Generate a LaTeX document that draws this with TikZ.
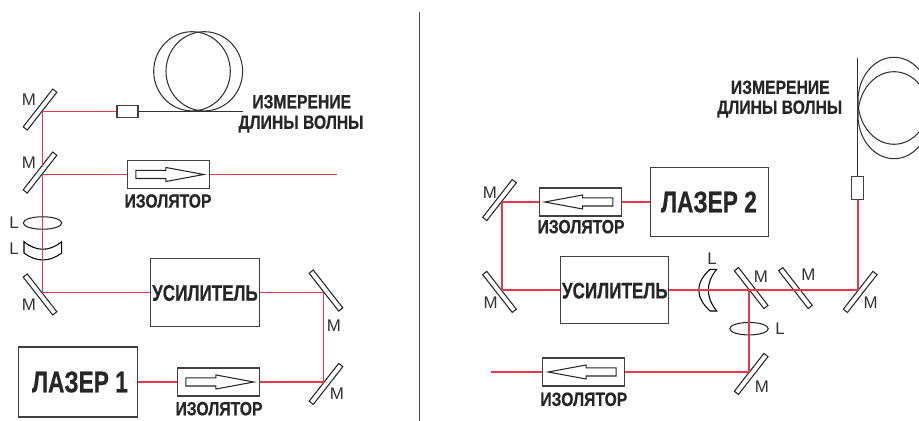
\documentclass[tikz,border=0pt]{standalone}
\usepackage{fontspec}
\setmainfont{Liberation Sans}
\newfontfamily\capfont{Liberation Sans}[FakeStretch=0.82, FakeBold=0.5]
\newfontfamily\bigfont{Liberation Sans}[FakeStretch=0.76, FakeBold=0.5]
\usetikzlibrary{shapes.geometric, shapes.arrows}

\begin{document}
\begin{tikzpicture}[
    x = 0.02cm, y = -0.02cm,
    line width = 0.6pt,
    beam/.style = {draw = beamred, line width = 0.9pt},
    fiber/.style = {draw = black!80, line width = 0.6pt},
    mirror/.style = {
        rectangle, draw = black!85, inner sep = 0pt,
        minimum width = 0.96cm, minimum height = 0.105cm
    },
    block/.style = {rectangle, draw = black!75, inner sep = 0pt},
    isolator/.style = {
        block, minimum width = 1.65cm, minimum height = 0.56cm
    },
    isoarrow/.style = {
        single arrow, draw = black!85, inner xsep = 0pt, inner ysep = 0.07cm,
        minimum height = 1.36cm, minimum width = 0.26cm,
        single arrow head extend = 0.06cm,
        single arrow tip angle = 21,
        single arrow head indent = 0pt,
        anchor = tail
    },
    lens/.style = {
        ellipse, draw = black!85, inner sep = 0pt,
        minimum width = 0.77cm, minimum height = 0.25cm
    },
    coupler/.style = {block, fill = white},
    tag/.style = {font = \fontsize{9.6}{11}\selectfont, text = black!80, inner sep = 0pt},
    caption/.style = {
        font = \capfont\bfseries\fontsize{10.9}{12}\selectfont,
        text = black!85, inner sep = 0pt
    },
    blocktext/.style = {
        font = \bigfont\bfseries\fontsize{12.8}{14}\selectfont,
        text = black!85, inner sep = 0pt
    },
    lasertext/.style = {
        font = \bigfont\bfseries\fontsize{17}{19}\selectfont,
        text = black!85, inner sep = 0pt
    }
]
\definecolor{beamred}{HTML}{E8394A}

\useasboundingbox (0,0) rectangle (919,421);

% --- Divider ---
\draw[black!70] (419.5,12) -- (419.5,421);

% --- Left setup: optics ---
\node[mirror, rotate = 52, anchor = south]  (mA) at (42.5,111.5) {};
\node[mirror, rotate = 52, anchor = south]  (mB) at (42.5,174.5) {};
\node[mirror, rotate = -52, anchor = north] (mC) at (42.5,292.5) {};
\node[mirror, rotate = -52, anchor = south] (mD) at (323.5,292.5) {};
\node[mirror, rotate = 52, anchor = north]  (mE) at (323.5,382) {};

\node[lens] (lensA) at (42.5,223) {};
\draw (24,241.7) .. controls (36.5,251.8) and (49.2,251.8) .. (61.7,241.7)
      -- (61.7,253) .. controls (49.2,262.3) and (36.5,262.3) .. (24,253) -- cycle;

\node[isolator] (isoA) at (168.5,174.5) {};
\node[isoarrow] (arrA) at (135.3,174.5) {};
\node[isolator] (isoB) at (218.3,382) {};
\node[isoarrow] (arrB) at (185.3,382) {};

\node[block, minimum width = 2.17cm, minimum height = 1.35cm] (ampA) at (205,292.5) {};
\node[block, minimum width = 2.37cm, minimum height = 1.4cm] (laserA) at (78.2,382) {};

\coordinate (exitA) at (337,174.5);
\coordinate (fibA) at (243,111.5);
\coordinate (backB) at (42.5,167);

% --- Left setup: fiber coil ---
\draw[fiber] (192,71.3) ellipse (38.3 and 39.6);
\draw[fiber] (204.3,71.3) ellipse (38.3 and 39.6);

% --- Left setup: beams ---
\draw[beam] (laserA) -- (isoB);
\draw[beam] (isoB) -- (mE.north);
\draw[beam] (mE.north) -- (mD.south);
\draw[beam] (mD.south) -- (ampA);
\draw[beam] (ampA) -- (mC.north);
\draw[beam] (mC.north) -- (mB.south);
\draw[beam] (backB) -- (mA.south);
\draw[beam] (mB.south) -- (isoA);
\draw[beam] (isoA) -- (exitA);
\node[coupler, minimum width = 0.42cm, minimum height = 0.24cm] (cplA) at (127.5,111.5) {};
\draw[beam] (mA.south) -- (cplA);
\draw[fiber] (cplA) -- (fibA);

% --- Left setup: labels ---
\node[tag] (tagA) at (29,100) {M};
\node[tag] (tagB) at (29,163) {M};
\node[tag] (tagC) at (29,305) {M};
\node[tag] (tagD) at (334,326) {M};
\node[tag] (tagE) at (337,394) {M};
\node[tag] (tagF) at (14,223) {L};
\node[tag] (tagG) at (14,249) {L};

\node[caption] (waveA) at (301.7,101.7) {ИЗМЕРЕНИЕ};
\node[caption] (waveB) at (301,124) {ДЛИНЫ ВОЛНЫ};
\node[caption] (capA)  at (168,201) {ИЗОЛЯТОР};
\node[caption] (capB)  at (219,408.7) {ИЗОЛЯТОР};
\node[blocktext] (ampTextA) at (205,293) {УСИЛИТЕЛЬ};
\node[lasertext] (laserTextA) at (80,382) {ЛАЗЕР 1};

% --- Right setup: optics ---
\node[mirror, rotate = 52, anchor = south]  (mF) at (502,202) {};
\node[mirror, rotate = -52, anchor = north] (mG) at (502,290) {};
\node[mirror, rotate = -52, anchor = south] (mH) at (748.7,290) {};
\node[mirror, rotate = -52, anchor = south] (mI) at (793,290) {};
\node[mirror, rotate = 52, anchor = north]  (mJ) at (857.7,290) {};
\node[mirror, rotate = 52, anchor = north]  (mK) at (748.7,372) {};

\node[lens] (lensB) at (749,328.7) {};
\draw (710,269.3) .. controls (695,283) and (695,297) .. (710,311)
      -- (716.7,311) .. controls (705.5,297) and (705.5,283) .. (716.7,269.3) -- cycle;

\node[isolator] (isoC) at (580.3,202) {};
\node[isoarrow, shape border rotate = 180] (arrC) at (613.3,202) {};
\node[isolator] (isoD) at (583.3,372) {};
\node[isoarrow, shape border rotate = 180] (arrD) at (616.7,372) {};

\node[block, minimum width = 2.17cm, minimum height = 1.35cm] (ampB) at (614.3,290) {};
\node[block, minimum width = 2.36cm, minimum height = 1.38cm] (laserB) at (709.3,202) {};

\coordinate (exitB) at (490.7,372);
\coordinate (fibB) at (857.7,58);

% --- Right setup: fiber coil ---
\begin{scope}
    \clip (840,40) rectangle (919,170);
    \draw[fiber] (894,100.8) ellipse (36 and 43.5);
    \draw[fiber] (894,115.2) ellipse (36 and 43.5);
\end{scope}

% --- Right setup: beams ---
\draw[beam] (laserB) -- (isoC);
\draw[beam] (isoC) -- (mF.south);
\draw[beam] (mF.south) -- (mG.north);
\draw[beam] (mG.north) -- (ampB);
\draw[beam] (ampB) -- (mJ.north);
\draw[beam] (mH.south) -- (mK.north);
\draw[beam] (mK.north) -- (isoD);
\draw[beam] (isoD) -- (exitB);
\node[coupler, minimum width = 0.23cm, minimum height = 0.47cm] (cplB) at (857.7,188) {};
\draw[beam] (mJ.north) -- (cplB);
\draw[fiber] (cplB) -- (fibB);

% --- Right setup: labels ---
\node[tag] (tagH) at (490,192.7) {M};
\node[tag] (tagI) at (490.7,302.7) {M};
\node[tag] (tagJ) at (761,276.7) {M};
\node[tag] (tagK) at (808.3,275) {M};
\node[tag] (tagL) at (870.7,302.3) {M};
\node[tag] (tagM) at (762,386.7) {M};
\node[tag] (tagN) at (712,259) {L};
\node[tag] (tagO) at (780,328.3) {L};

\node[caption] (waveC) at (780.3,87.3) {ИЗМЕРЕНИЕ};
\node[caption] (waveD) at (779.7,109) {ДЛИНЫ ВОЛНЫ};
\node[caption] (capC)  at (581,226.7) {ИЗОЛЯТОР};
\node[caption] (capD)  at (583.8,399.3) {ИЗОЛЯТОР};
\node[blocktext] (ampTextB) at (614.8,290.7) {УСИЛИТЕЛЬ};
\node[lasertext] (laserTextB) at (709,202) {ЛАЗЕР 2};

\end{tikzpicture}
\end{document}
